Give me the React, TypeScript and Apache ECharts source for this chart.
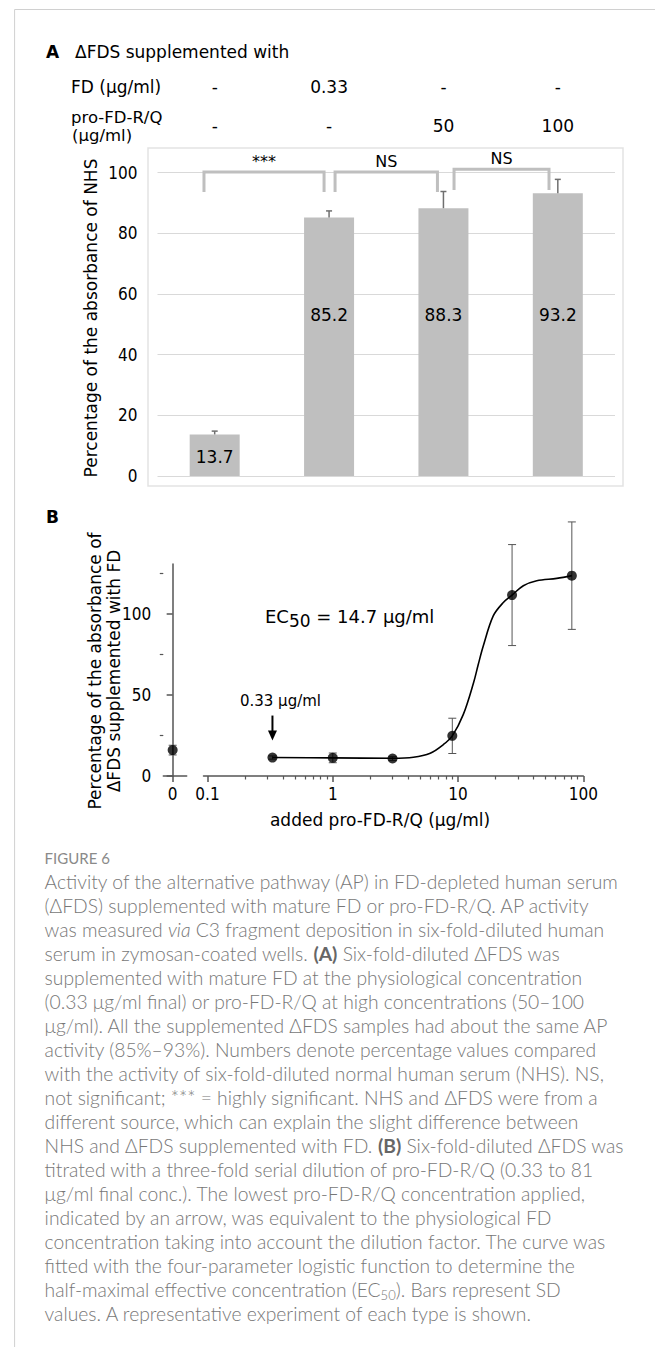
import React, { useEffect, useRef } from 'react';
import * as echarts from 'echarts';

// ---------- Panel A data ----------
const barCategories = ['ΔFDS', 'ΔFDS + FD 0.33', 'ΔFDS + pro-FD-R/Q 50', 'ΔFDS + pro-FD-R/Q 100'];
const barValues = [13.7, 85.2, 88.3, 93.2];
const barErrors = [1.1, 2.2, 5.5, 4.6];
const fdRow = ['-', '0.33', '-', '-'];
const proRow = ['-', '-', '50', '100'];
// brackets: [fromIndex, toIndex, topValue, legValue, label]
const brackets: [number, number, number, number, string][] = [
  [0, 1, 100.2, 93.6, '***'],
  [1, 2, 100.2, 93.6, 'NS'],
  [2, 3, 101.1, 94.3, 'NS'],
];

// ---------- Panel B data ----------
const concentrations = [0.33, 1, 3, 9, 27, 81];
const responses = [11.4, 11.2, 10.8, 24.8, 111.8, 123.8];
const responseSD = [1.0, 3.0, 1.2, 10.9, 31.2, 33.2];
const zeroConc = [0];
const zeroResponse = [16.0];
const zeroSD = [3.0];
const fitX = [0.33, 1, 3, 4.4, 6.0, 7.6, 9, 11, 13.3, 14.5, 15.9, 19.1, 23, 27, 33.2, 42.5, 61.4, 81];
const fitY = [11.4, 11.2, 11.0, 11.6, 14.1, 19.3, 24.8, 37.9, 57.6, 68.9, 80.3, 98.9, 107.2, 111.8, 117.6, 120.7, 122.1, 123.8];
const yTicksB = [0, 50, 100];
const yMinorB = [25, 75, 125];
const xTicksB = [0.1, 1, 10, 100];
const xMinorB = [0.2, 0.3, 0.4, 0.5, 0.6, 0.7, 0.8, 0.9, 2, 3, 4, 5, 6, 7, 8, 9, 20, 30, 40, 50, 60, 70, 80, 90];

// ---------- Caption ----------
const captionTitle = 'FIGURE 6';
const captionLines = [
  'Activity of the alternative pathway (AP) in FD-depleted human serum',
  '(ΔFDS) supplemented with mature FD or pro-FD-R/Q. AP activity',
  'was measured {i|via} C3 fragment deposition in six-fold-diluted human',
  'serum in zymosan-coated wells. {b|(A)} Six-fold-diluted ΔFDS was',
  'supplemented with mature FD at the physiological concentration',
  '(0.33 μg/ml final) or pro-FD-R/Q at high concentrations (50–100',
  'μg/ml). All the supplemented ΔFDS samples had about the same AP',
  'activity (85%–93%). Numbers denote percentage values compared',
  'with the activity of six-fold-diluted normal human serum (NHS). NS,',
  'not significant; *** = highly significant. NHS and ΔFDS were from a',
  'different source, which can explain the slight difference between',
  'NHS and ΔFDS supplemented with FD. {b|(B)} Six-fold-diluted ΔFDS was',
  'titrated with a three-fold serial dilution of pro-FD-R/Q (0.33 to 81',
  'μg/ml final conc.). The lowest pro-FD-R/Q concentration applied,',
  'indicated by an arrow, was equivalent to the physiological FD',
  'concentration taking into account the dilution factor. The curve was',
  'fitted with the four-parameter logistic function to determine the',
  'half-maximal effective concentration (EC{s|50}). Bars represent SD',
  'values. A representative experiment of each type is shown.',
];

// ---------- styles ----------
const FONT = '"DejaVu Sans", Verdana, sans-serif';
const FONT_C = '"DejaVu Sans Condensed", "DejaVu Sans", sans-serif';
const CAP_FONT = 'Lato, "Open Sans", sans-serif';
const labelDistA = [11, 153, 153, 153];
const bracketOffsets = [[-10.7, -5], [6, -6], [10.6, -8.8]];
const AXIS_B = '#555555';

export default function App() {
  const ref = useRef<HTMLDivElement>(null);

  useEffect(() => {
    const chart = echarts.init(ref.current!, null, { renderer: 'svg' });

    function errBar(api: any) {
      const x = api.value(0);
      const p1 = api.coord([x, api.value(1)]);
      const p2 = api.coord([x, api.value(2)]);
      const st = { stroke: '#555', lineWidth: 1 };
      const c = 4;
      return {
        type: 'group', children: [
          { type: 'line', shape: { x1: p1[0], y1: p1[1], x2: p2[0], y2: p2[1] }, style: st },
          { type: 'line', shape: { x1: p1[0] - c, y1: p1[1], x2: p1[0] + c, y2: p1[1] }, style: st },
          { type: 'line', shape: { x1: p2[0] - c, y1: p2[1], x2: p2[0] + c, y2: p2[1] }, style: st },
        ],
      };
    }

    const option: any = {
      animation: false,
      grid: [
        { left: 157.5, top: 172.7, width: 457.5, height: 303.3 },
        { left: 163.3, top: 564, width: 23.4, height: 212 },
        { left: 203.5, top: 564, width: 379.8, height: 212 },
      ],
      xAxis: [
        {
          type: 'category', gridIndex: 0, data: barCategories,
          axisLine: { show: false }, axisTick: { show: false }, axisLabel: { show: false },
        },
        {
          type: 'value', gridIndex: 1, min: -0.4, max: 0.6,
          axisLine: { show: true, lineStyle: { color: AXIS_B, width: 1.5 } },
          axisTick: { show: true, length: 6, customValues: [0], lineStyle: { color: AXIS_B, width: 1.5 } },
          axisLabel: { customValues: [0], margin: 9, fontSize: 17, color: '#000', fontFamily: FONT_C },
          splitLine: { show: false },
        },
        {
          type: 'log', gridIndex: 2, logBase: 10, min: 0.0929, max: 100,
          axisLine: { show: true, lineStyle: { color: AXIS_B, width: 1.5 } },
          axisTick: { show: true, length: 6, customValues: xTicksB, lineStyle: { color: AXIS_B, width: 1.5 } },
          axisLabel: { customValues: xTicksB, margin: 9, fontSize: 17, color: '#000', fontFamily: FONT_C },
          splitLine: { show: false }, minorTick: { show: false },
        },
        {
          type: 'log', gridIndex: 2, logBase: 10, min: 0.0929, max: 100, position: 'bottom',
          axisLine: { show: false },
          axisTick: { show: true, length: 3.5, customValues: xMinorB, lineStyle: { color: AXIS_B, width: 1.2 } },
          axisLabel: { show: false },
          splitLine: { show: false },
        },
      ],
      yAxis: [
        {
          type: 'value', gridIndex: 0, min: 0, max: 100, interval: 20,
          axisLine: { show: false }, axisTick: { show: false },
          axisLabel: { margin: 20, fontSize: 17, color: '#000', fontFamily: FONT_C },
          splitLine: { show: true, lineStyle: { color: '#d9d9d9', width: 1 } },
        },
        {
          type: 'value', gridIndex: 1, min: 0, max: 131, position: 'left',
          axisLine: { show: true, lineStyle: { color: AXIS_B, width: 1.5 } },
          axisTick: { show: true, length: 6, customValues: yTicksB, lineStyle: { color: AXIS_B, width: 1.5 } },
          axisLabel: { customValues: yTicksB, margin: 12, fontSize: 17, color: '#000', fontFamily: FONT_C },
          splitLine: { show: false },
        },
        {
          type: 'value', gridIndex: 1, min: 0, max: 131, position: 'left', offset: 0,
          axisLine: { show: false },
          axisTick: { show: true, length: 3.5, customValues: yMinorB, lineStyle: { color: AXIS_B, width: 1.2 } },
          axisLabel: { show: false },
          splitLine: { show: false },
        },
        {
          type: 'value', gridIndex: 2, min: 0, max: 131, show: false,
        },
      ],
      series: [
        {
          type: 'bar', xAxisIndex: 0, yAxisIndex: 0, barWidth: 50,
          itemStyle: { color: '#bfbfbf' },
          data: barValues.map((v, i) => ({
            value: v,
            label: {
              show: true, position: 'insideBottom', distance: labelDistA[i],
              fontSize: 17, color: '#000', fontFamily: FONT,
            },
          })),
          z: 2,
        },
        {
          type: 'custom', xAxisIndex: 0, yAxisIndex: 0, clip: false, z: 3,
          data: barValues.map((v, i) => [i, v, v + barErrors[i]]),
          encode: { x: 0, y: [1, 2] },
          renderItem: (params: any, api: any) => {
            const i = api.value(0);
            const p1 = api.coord([i, api.value(1)]);
            const p2 = api.coord([i, api.value(2)]);
            const st = { stroke: '#6f6f6f', lineWidth: 1.5 };
            return {
              type: 'group', children: [
                { type: 'line', shape: { x1: p1[0], y1: p1[1], x2: p2[0], y2: p2[1] }, style: st },
                { type: 'line', shape: { x1: p2[0] - 3, y1: p2[1], x2: p2[0] + 3, y2: p2[1] }, style: st },
              ],
            };
          },
        },
        {
          type: 'custom', xAxisIndex: 0, yAxisIndex: 0, clip: false, z: 3,
          data: brackets.map((b) => [b[0], b[1], b[2], b[3]]),
          encode: { x: [0, 1], y: [2, 3] },
          renderItem: (params: any, api: any) => {
            const k = params.dataIndex;
            const xl = api.coord([api.value(0), 0])[0] + bracketOffsets[k][0];
            const xr = api.coord([api.value(1), 0])[0] + bracketOffsets[k][1];
            const yt = api.coord([0, api.value(2)])[1];
            const yl = api.coord([0, api.value(3)])[1];
            return {
              type: 'group', children: [
                {
                  type: 'polyline',
                  shape: { points: [[xl, yl], [xl, yt], [xr, yt], [xr, yl]] },
                  style: { stroke: '#bfbfbf', lineWidth: 3, fill: 'none' },
                },
                {
                  type: 'text', x: (xl + xr) / 2, y: yt - 11,
                  style: {
                    text: brackets[k][4], textAlign: 'center', textVerticalAlign: 'middle',
                    fontSize: 16, fontFamily: FONT, fill: '#000',
                  },
                },
              ],
            };
          },
        },
        // Panel B
        {
          type: 'custom', xAxisIndex: 1, yAxisIndex: 1, clip: false, z: 3,
          data: zeroConc.map((c, i) => [c, zeroResponse[i] - zeroSD[i], zeroResponse[i] + zeroSD[i]]),
          encode: { x: 0, y: [1, 2] },
          renderItem: (params: any, api: any) => errBar(api),
        },
        {
          type: 'scatter', xAxisIndex: 1, yAxisIndex: 1, symbolSize: 10, z: 5,
          itemStyle: { color: '#000' },
          data: zeroConc.map((c, i) => [c, zeroResponse[i]]),
        },
        {
          type: 'custom', xAxisIndex: 2, yAxisIndex: 3, clip: false, z: 3,
          data: concentrations.map((c, i) => [c, responses[i] - responseSD[i], responses[i] + responseSD[i]]),
          encode: { x: 0, y: [1, 2] },
          renderItem: (params: any, api: any) => errBar(api),
        },
        {
          type: 'line', xAxisIndex: 2, yAxisIndex: 3, smooth: 0.35, symbol: 'none', z: 4,
          lineStyle: { color: '#000', width: 1.6 },
          data: fitX.map((x, i) => [x, fitY[i]]),
        },
        {
          type: 'scatter', xAxisIndex: 2, yAxisIndex: 3, symbolSize: 10, z: 5,
          itemStyle: { color: '#000' },
          data: concentrations.map((c, i) => [c, responses[i]]),
        },
      ],
    };

    chart.setOption(option);

    const base = { fontFamily: FONT, fontSize: 17, fill: '#000' };
    const g: any[] = [];
    // frame
    g.push({ type: 'line', shape: { x1: 14.6, y1: 9.5, x2: 655, y2: 9.5 }, style: { stroke: '#d0d0d0', lineWidth: 1 } });
    g.push({ type: 'line', shape: { x1: 14.6, y1: 9.5, x2: 14.6, y2: 1347 }, style: { stroke: '#d0d0d0', lineWidth: 1 } });
    // panel A chart-area box
    g.push({ type: 'rect', shape: { x: 148, y: 148, width: 475, height: 338 }, style: { fill: 'none', stroke: '#e3e3e3', lineWidth: 1.5 } });
    // panel letters and header
    g.push({ type: 'text', x: 46, y: 52, style: { ...base, text: 'A', fontWeight: 'bold', textVerticalAlign: 'middle' } });
    g.push({ type: 'text', x: 75, y: 52, style: { ...base, text: 'ΔFDS supplemented with', textVerticalAlign: 'middle' } });
    g.push({ type: 'text', x: 71, y: 87, style: { ...base, text: 'FD (μg/ml)', textVerticalAlign: 'middle' } });
    g.push({ type: 'text', x: 71, y: 117.5, style: { ...base, fontSize: 16.5, text: 'pro-FD-R/Q', textVerticalAlign: 'middle' } });
    g.push({ type: 'text', x: 72, y: 135.5, style: { ...base, fontSize: 16.5, text: '(μg/ml)', textVerticalAlign: 'middle' } });
    for (let i = 0; i < barCategories.length; i++) {
      const cx = chart.convertToPixel({ xAxisIndex: 0 }, i) as number;
      g.push({ type: 'text', x: cx, y: 87, style: { ...base, text: fdRow[i], textAlign: 'center', textVerticalAlign: 'middle' } });
      g.push({ type: 'text', x: cx, y: 126, style: { ...base, text: proRow[i], textAlign: 'center', textVerticalAlign: 'middle' } });
    }
    g.push({
      type: 'text', x: 91, y: 318, rotation: Math.PI / 2,
      style: { ...base, text: 'Percentage of the absorbance of NHS', textAlign: 'center', textVerticalAlign: 'middle' },
    });
    // panel B
    g.push({ type: 'text', x: 46, y: 517, style: { ...base, text: 'B', fontWeight: 'bold', textVerticalAlign: 'middle' } });
    g.push({
      type: 'text', x: 104, y: 671, rotation: Math.PI / 2,
      style: {
        ...base, text: 'Percentage of the absorbance of\nΔFDS supplemented with FD', lineHeight: 19,
        textAlign: 'center', textVerticalAlign: 'middle',
      },
    });
    g.push({ type: 'text', x: 380, y: 820, style: { ...base, text: 'added pro-FD-R/Q (μg/ml)', textAlign: 'center', textVerticalAlign: 'middle' } });
    const ecBase = { fontFamily: FONT, fontSize: 18, fill: '#000' };
    g.push({
      type: 'text', x: 265, y: 616,
      style: {
        ...ecBase, text: '{n|EC}{s|50}{n| = 14.7 μg/ml}', textVerticalAlign: 'middle',
        rich: {
          n: { ...ecBase, lineHeight: 26 },
          s: { fontFamily: FONT, fontSize: 17, fill: '#000', lineHeight: 18, verticalAlign: 'bottom' },
        },
      },
    });
    const ap = chart.convertToPixel({ xAxisIndex: 2, yAxisIndex: 3 }, [concentrations[0], responses[0]]) as number[];
    const ax = ap[0];
    const tipY = ap[1] - 17;
    g.push({ type: 'line', shape: { x1: ax, y1: tipY - 25, x2: ax, y2: tipY - 8 }, style: { stroke: '#000', lineWidth: 2 } });
    g.push({ type: 'polygon', shape: { points: [[ax - 4.5, tipY - 10], [ax + 4.5, tipY - 10], [ax, tipY]] }, style: { fill: '#000' } });
    g.push({
      type: 'text', x: ax + 8, y: tipY - 40,
      style: { fontFamily: FONT, fontSize: 15, fill: '#000', text: '0.33 μg/ml', textAlign: 'center', textVerticalAlign: 'middle' },
    });
    // caption
    const capBase = { fontFamily: CAP_FONT, fontSize: 19.3, fontWeight: 300, fill: '#777777' };
    g.push({
      type: 'text', x: 44.6, y: 858,
      style: { fontFamily: CAP_FONT, fontSize: 15, fontWeight: 'normal', fill: '#8a8a8a', text: captionTitle, textVerticalAlign: 'middle' },
    });
    captionLines.forEach((line, i) => {
      g.push({
        type: 'text', x: 44.6, y: 881 + i * 24.0,
        style: {
          ...capBase, text: '{r|' + line.replace(/\{(i|b|s)\|([^}]*)\}/g, '}{$1|$2}{r|') + '}',
          textVerticalAlign: 'middle',
          rich: {
            r: { ...capBase, lineHeight: 24 },
            i: { ...capBase, fontStyle: 'italic', lineHeight: 24 },
            b: { ...capBase, fontWeight: 'bold', fill: '#666', lineHeight: 24 },
            s: { ...capBase, fontSize: 13, lineHeight: 14, verticalAlign: 'bottom' },
          },
        },
      });
    });
    chart.setOption({ graphic: g });

    return () => chart.dispose();
  }, []);

  return <div ref={ref} style={{ position: 'absolute', left: 0, top: 0, width: 655, height: 1347 }} />;
}
